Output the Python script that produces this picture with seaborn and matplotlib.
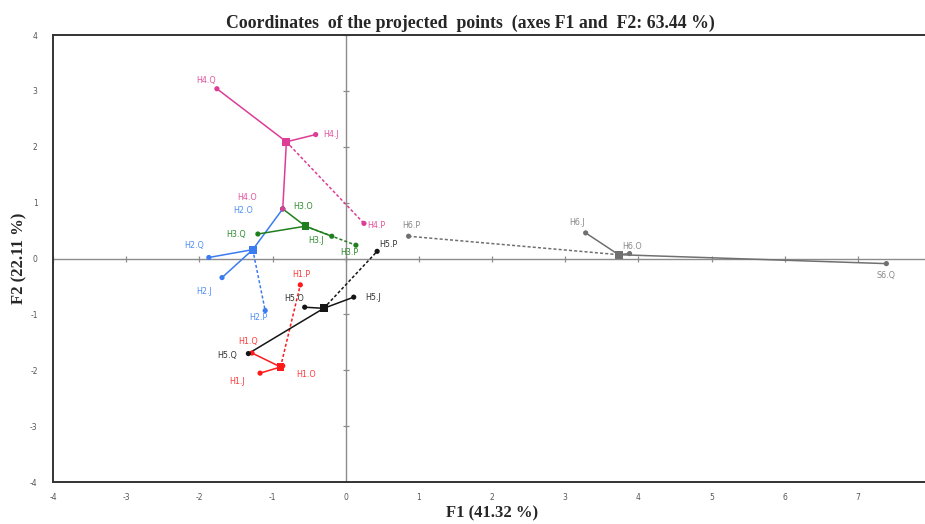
import matplotlib
matplotlib.use("Agg")
import matplotlib.pyplot as plt
import numpy as np
import pandas as pd
import seaborn as sns

# Projected observation points (F1, F2)
groups = ["H1"] * 4 + ["H2"] * 4 + ["H3"] * 4 + ["H4"] * 4 + ["H5"] * 4 + ["H6"] * 4
labels = [
    "H1.Q", "H1.J", "H1.O", "H1.P",
    "H2.Q", "H2.J", "H2.O", "H2.P",
    "H3.Q", "H3.J", "H3.O", "H3.P",
    "H4.Q", "H4.J", "H4.O", "H4.P",
    "H5.Q", "H5.J", "H5.O", "H5.P",
    "S6.Q", "H6.J", "H6.O", "H6.P",
]
f1 = [
    -1.28, -1.17, -0.86, -0.62,
    -1.87, -1.69, -0.86, -1.10,
    -1.20, -0.19, -0.86, 0.14,
    -1.76, -0.41, -0.86, 0.25,
    -1.33, 0.11, -0.56, 0.43,
    7.39, 3.28, 3.88, 0.86,
]
f2 = [
    -1.69, -2.05, -1.92, -0.47,
    0.02, -0.34, 0.89, -0.93,
    0.44, 0.40, 0.89, 0.24,
    3.04, 2.22, 0.89, 0.63,
    -1.70, -0.69, -0.87, 0.13,
    -0.09, 0.46, 0.09, 0.40,
]

# Group centres (square markers)
centre_groups = ["H1", "H2", "H3", "H4", "H5", "H6"]
centre_f1 = [-0.89, -1.27, -0.55, -0.81, -0.30, 3.73]
centre_f2 = [-1.94, 0.16, 0.58, 2.09, -0.89, 0.07]

colors = {
    "H1": "#ff1a1a",
    "H2": "#3b7cf0",
    "H3": "#1f7f1f",
    "H4": "#dd3d96",
    "H5": "#151515",
    "H6": "#707070",
}
label_colors = {
    "H1": "#ff3b3b",
    "H2": "#4f8ff5",
    "H3": "#2e8b2e",
    "H4": "#e0559f",
    "H5": "#333333",
    "H6": "#888888",
}

# label offsets in pixels (dx, dy) relative to the point
label_offsets = {
    "H1.Q": (-4, 12), "H1.J": (-23, -8), "H1.O": (23, -9), "H1.P": (1, 10),
    "H2.Q": (-15, 12), "H2.J": (-18, -14), "H2.O": (-40, -2), "H2.P": (-7, -7),
    "H3.Q": (-22, 0), "H3.J": (-16, -4), "H3.O": (20, 2), "H3.P": (-7, -7),
    "H4.Q": (-11, 8), "H4.J": (15, 0), "H4.O": (-36, 11), "H4.P": (12, -2),
    "H5.Q": (-21, -2), "H5.J": (19, 0), "H5.O": (-11, 9), "H5.P": (11, 7),
    "S6.Q": (0, -12), "H6.J": (-9, 10), "H6.O": (3, 7), "H6.P": (3, 11),
}

df = pd.DataFrame({"group": groups, "label": labels, "F1": f1, "F2": f2})
centres = pd.DataFrame({"group": centre_groups, "F1": centre_f1, "F2": centre_f2})

sns.set_style("white")
plt.rcParams["axes.unicode_minus"] = False
fig = plt.figure(figsize=(9.25, 5.24), dpi=100)
ax = fig.add_axes([0.0573, 0.080, 0.9492, 0.853])

# zero axes with tick marks
ax.axhline(0, color="#8c8c8c", lw=1.0, zorder=1)
ax.axvline(0, color="#8c8c8c", lw=1.0, zorder=1)
xt = np.arange(-4, 9)
yt = np.arange(-4, 5)
ax.plot(xt, np.zeros_like(xt), ls="none", marker="|", ms=5, mew=0.9, color="#8c8c8c", zorder=1)
ax.plot(np.zeros_like(yt), yt, ls="none", marker="_", ms=5, mew=0.9, color="#8c8c8c", zorder=1)

# segments from centre to each point
for _, row in df.iterrows():
    c = centres[centres["group"] == row["group"]].iloc[0]
    dotted = row["label"].endswith(".P")
    ax.plot(
        [c["F1"], row["F1"]], [c["F2"], row["F2"]],
        color=colors[row["group"]], lw=1.1,
        ls=(0, (2, 1.4)) if dotted else "-",
        zorder=2,
    )

sns.scatterplot(
    data=df, x="F1", y="F2", hue="group", palette=colors,
    s=14, edgecolor="none", legend=False, ax=ax, zorder=3,
)
sns.scatterplot(
    data=centres, x="F1", y="F2", hue="group", palette=colors,
    marker="s", s=32, edgecolor="none", legend=False, ax=ax, zorder=4,
)

for _, row in df.iterrows():
    dx, dy = label_offsets[row["label"]]
    ax.annotate(
        row["label"], (row["F1"], row["F2"]),
        xytext=(dx, dy), textcoords="offset pixels",
        ha="center", va="center", fontsize=5.8,
        color=label_colors[row["group"]], zorder=5,
    )

ax.set_xlim(-4, 8)
ax.set_ylim(-4, 4)
ax.set_xticks(xt[:-1])
ax.set_yticks(yt)
ax.tick_params(axis="both", length=0, labelsize=5.5, labelcolor="#555555", pad=8)
ax.tick_params(axis="y", pad=11)
for side in ["left", "bottom", "top"]:
    ax.spines[side].set_color("#333333")
    ax.spines[side].set_linewidth(1.4)
ax.spines["right"].set_visible(False)

serif = ["Liberation Serif", "DejaVu Serif"]
ax.set_title("Coordinates  of the projected  points  (axes F1 and  F2: 63.44 %)",
             fontsize=12.8, fontweight="bold", family=serif, pad=5, x=0.475)
ax.set_xlabel("F1 (41.32 %)", fontsize=12, fontweight="bold", family=serif, labelpad=2)
ax.set_ylabel("F2 (22.11 %)", fontsize=12, fontweight="bold", family=serif, labelpad=2)

fig.savefig("out.png", dpi=100)
